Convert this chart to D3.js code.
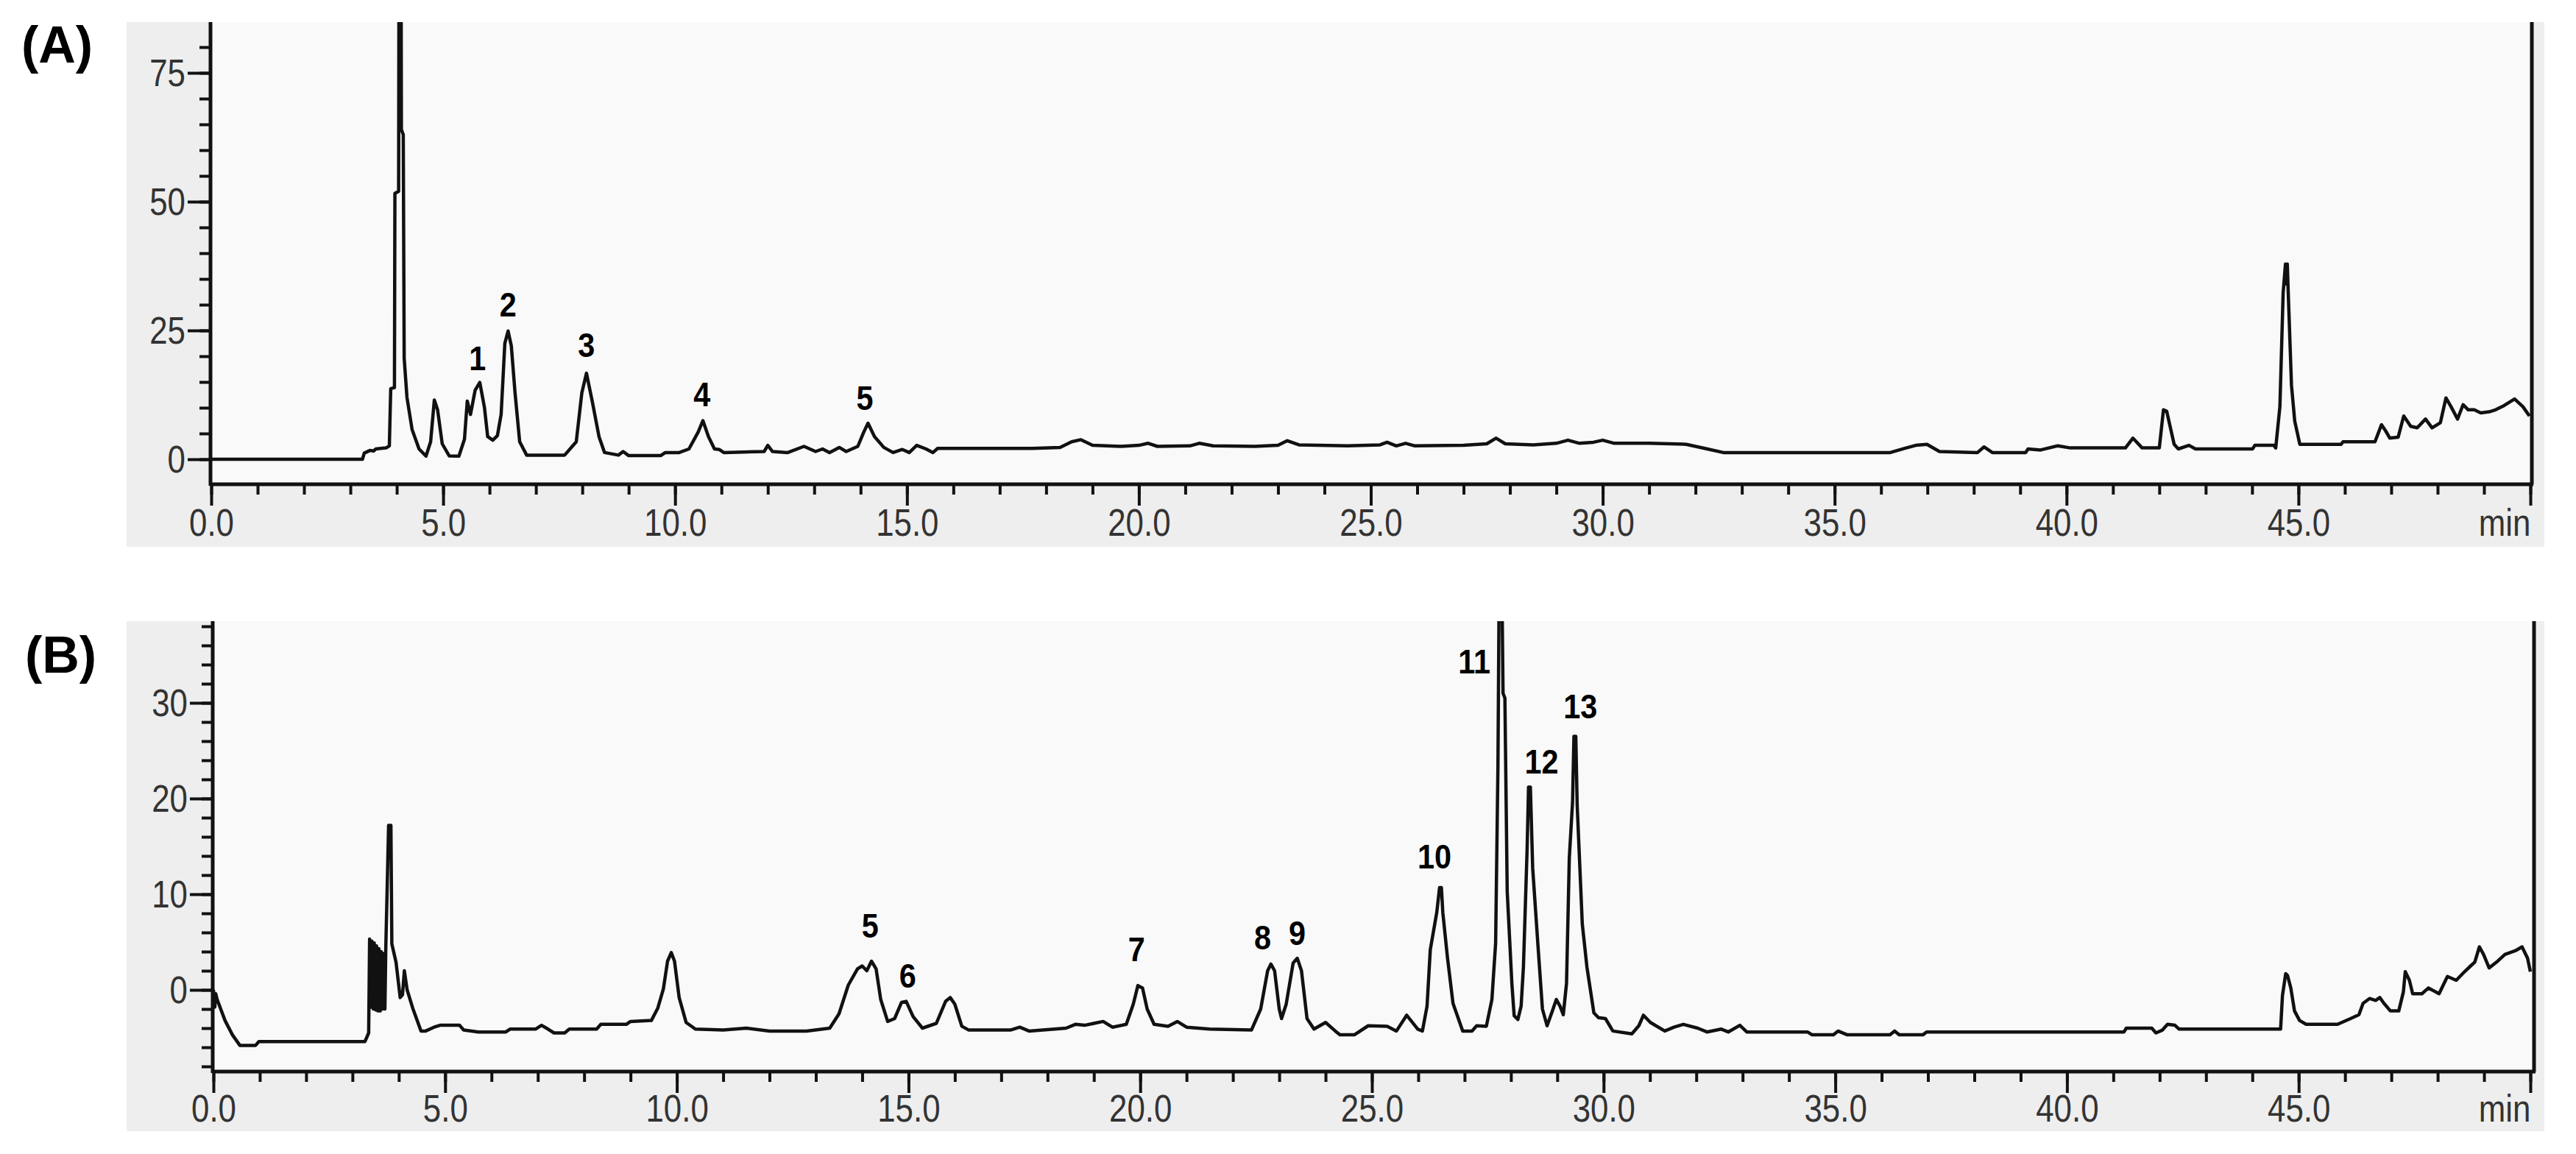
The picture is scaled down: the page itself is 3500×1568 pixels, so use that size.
<!DOCTYPE html>
<html>
<head>
<meta charset="utf-8">
<script src="https://cdn.jsdelivr.net/npm/d3@7"></script>
<style>
	body { margin: 0; background: #fff; }
	text { font-family: "Liberation Sans", Arial, sans-serif; }
</style>
</head>
<body>
<svg id="chart"></svg>
<script>
/* jshint esversion: 6 */

///////////////////////////////////////////////////////////////////
//// Data (time in min, signal in mAU) ////////////////////////////
///////////////////////////////////////////////////////////////////
const xTicks = [0, 5, 10, 15, 20, 25, 30, 35, 40, 45, 50];
const xTickLabels = ["0.0", "5.0", "10.0", "15.0", "20.0", "25.0", "30.0", "35.0", "40.0", "45.0", "min"];

const yTicksA = [0, 25, 50, 75];
const yTicksB = [0, 10, 20, 30];

const traceA = [
	[0, 0], [3.26, 0], [3.30, 1.2], [3.42, 1.7], [3.50, 1.6], [3.55, 2.0], [3.77, 2.2], [3.84, 2.6],
	[3.87, 13.7], [3.95, 13.9], [3.96, 51.6], [4.04, 52], [4.05, 110], [4.09, 110], [4.10, 64], [4.14, 63],
	[4.16, 19.6], [4.22, 12], [4.33, 5.8], [4.48, 2.0], [4.63, 0.6], [4.73, 3.4], [4.81, 11.5], [4.88, 9.6],
	[4.98, 3.0], [5.13, 0.66], [5.34, 0.6], [5.46, 3.9], [5.52, 11.3], [5.59, 8.7], [5.69, 13.4], [5.79, 14.9],
	[5.89, 10.1], [5.96, 4.4], [6.07, 3.7], [6.17, 4.6], [6.25, 8.7], [6.33, 22.5], [6.40, 24.9], [6.47, 22.0],
	[6.55, 12.9], [6.65, 3.4], [6.80, 0.8], [7.62, 0.8], [7.87, 3.4], [7.99, 12.9], [8.09, 16.7], [8.22, 11],
	[8.36, 4.4], [8.48, 1.3], [8.78, 0.8], [8.88, 1.5], [9.00, 0.7], [9.69, 0.7], [9.79, 1.3], [10.09, 1.3],
	[10.30, 2.0], [10.50, 5.3], [10.60, 7.5], [10.72, 4.4], [10.85, 2.0], [10.95, 1.9], [11.05, 1.3], [11.92, 1.5],
	[12.0, 2.7], [12.1, 1.5], [12.43, 1.3], [12.78, 2.5], [13.03, 1.5], [13.18, 2.0], [13.33, 1.3], [13.54, 2.3],
	[13.69, 1.5], [13.94, 2.5], [14.07, 5.3], [14.16, 7.0], [14.30, 4.4], [14.50, 2.3], [14.70, 1.3], [14.90, 1.9],
	[15.05, 1.3], [15.21, 2.7], [15.41, 2.0], [15.56, 1.3], [15.66, 2.1], [17.7, 2.1], [18.3, 2.3], [18.55, 3.4],
	[18.75, 3.8], [19.0, 2.7], [19.6, 2.5], [20.0, 2.7], [20.2, 3.1], [20.4, 2.5], [21.1, 2.6], [21.3, 3.1],
	[21.6, 2.6], [22.5, 2.5], [23.0, 2.7], [23.2, 3.6], [23.45, 2.8], [24.5, 2.6], [25.2, 2.8], [25.35, 3.3],
	[25.55, 2.6], [25.75, 3.1], [25.95, 2.6], [27.0, 2.7], [27.5, 3.0], [27.7, 4.1], [27.9, 3.0], [28.5, 2.8],
	[29.0, 3.1], [29.25, 3.7], [29.5, 3.1], [29.8, 3.3], [30.0, 3.7], [30.25, 3.1], [31.0, 3.1], [31.8, 2.9],
	[32.2, 2.1], [32.6, 1.3], [36.2, 1.3], [36.5, 2.1], [36.75, 2.7], [36.99, 2.9], [37.26, 1.5], [38.08, 1.3],
	[38.22, 2.4], [38.40, 1.3], [39.12, 1.3], [39.17, 2.0], [39.44, 1.8], [39.81, 2.6], [40.08, 2.2], [41.27, 2.2],
	[41.43, 4.1], [41.63, 2.2], [42.0, 2.2], [42.09, 9.6], [42.16, 9.3], [42.32, 2.9], [42.41, 2.0], [42.64, 2.7],
	[42.78, 2.0], [44.01, 2.0], [44.06, 2.7], [44.47, 2.7], [44.51, 2.2], [44.60, 10.2], [44.67, 32.3], [44.72, 37.9],
	[44.74, 34], [44.76, 37.9], [44.78, 32.3], [44.85, 14.3], [44.92, 7.4], [45.03, 2.9], [45.92, 2.9], [45.96, 3.4],
	[46.65, 3.4], [46.79, 6.7], [46.88, 5.5], [46.97, 4.1], [47.15, 4.3], [47.27, 8.4], [47.42, 6.4], [47.56, 6.1],
	[47.74, 7.8], [47.88, 6.1], [48.06, 7.1], [48.18, 11.9], [48.29, 10.2], [48.43, 7.8], [48.55, 10.6], [48.66, 9.6],
	[48.79, 9.6], [48.93, 9.0], [49.11, 9.2], [49.25, 9.6], [49.43, 10.4], [49.66, 11.7], [49.84, 10.2], [49.98, 8.4]
];

const traceB = [
	[0, 0], [0.03, -1.8], [0.05, -0.4], [0.08, -1.0], [0.25, -3.2], [0.41, -4.7], [0.57, -5.8], [0.91, -5.8],
	[0.98, -5.4], [3.27, -5.4], [3.35, -4.5], [3.37, 5.3], [3.40, -1.8], [3.42, 5.1], [3.45, -2.0], [3.47, 4.9],
	[3.50, -2.1], [3.52, 4.6], [3.55, -2.2], [3.57, 4.3], [3.60, -2.2], [3.62, 4.0], [3.65, -2.0], [3.67, 3.8],
	[3.70, -2.0], [3.72, 4.5], [3.78, 17.2], [3.83, 17.2], [3.85, 4.8], [3.94, 2.9], [4.03, -0.8], [4.08, -0.5],
	[4.12, 2.0], [4.18, 0], [4.30, -1.9], [4.48, -4.3], [4.58, -4.3], [4.76, -3.9], [4.89, -3.7], [5.31, -3.7],
	[5.40, -4.2], [5.72, -4.4], [6.31, -4.4], [6.40, -4.1], [6.95, -4.1], [7.08, -3.7], [7.22, -4.1], [7.35, -4.5],
	[7.58, -4.5], [7.68, -4.1], [8.27, -4.1], [8.36, -3.6], [8.91, -3.6], [9.0, -3.3], [9.45, -3.2], [9.59, -1.9],
	[9.71, 0.1], [9.80, 3.0], [9.88, 3.9], [9.95, 3.0], [10.05, -0.8], [10.2, -3.4], [10.4, -4.1], [11.0, -4.2],
	[11.5, -4.0], [12.0, -4.3], [12.8, -4.3], [13.3, -4.0], [13.5, -2.5], [13.7, 0.5], [13.9, 2.2], [14.0, 2.5],
	[14.1, 2.0], [14.2, 3.0], [14.3, 2.2], [14.4, -1.0], [14.55, -3.3], [14.7, -3.0], [14.85, -1.3], [14.95, -1.2],
	[15.1, -2.8], [15.3, -4.0], [15.6, -3.5], [15.8, -1.2], [15.9, -0.8], [16.0, -1.5], [16.15, -3.8], [16.3, -4.2],
	[17.2, -4.2], [17.4, -3.9], [17.6, -4.3], [18.4, -4.0], [18.6, -3.6], [18.8, -3.7], [19.0, -3.5], [19.2, -3.3],
	[19.4, -3.9], [19.7, -3.6], [19.85, -1.5], [19.95, 0.45], [20.05, 0.2], [20.15, -2.0], [20.3, -3.6], [20.6, -3.8],
	[20.8, -3.3], [21.0, -3.9], [21.5, -4.1], [22.4, -4.2], [22.6, -2.0], [22.75, 2.0], [22.82, 2.7], [22.9, 2.0],
	[23.0, -2.0], [23.05, -3.0], [23.15, -1.5], [23.3, 2.8], [23.39, 3.3], [23.48, 2.0], [23.6, -3.0], [23.75, -4.1],
	[24.0, -3.4], [24.21, -4.3], [24.31, -4.7], [24.62, -4.7], [24.92, -3.75], [25.33, -3.8], [25.53, -4.3], [25.75, -2.65],
	[25.99, -4.1], [26.09, -4.3], [26.19, -1.7], [26.26, 4.2], [26.40, 8.1], [26.46, 10.7], [26.50, 10.7], [26.53, 8.1],
	[26.63, 3.4], [26.75, -1.4], [26.96, -4.3], [27.16, -4.3], [27.26, -3.75], [27.47, -3.8], [27.59, -1.0], [27.67, 4.9],
	[27.72, 23.4], [27.75, 45], [27.80, 45], [27.83, 31], [27.87, 30.5], [27.92, 10.3], [28.02, 0.7], [28.07, -2.7],
	[28.15, -3.1], [28.22, -1.7], [28.27, 2.4], [28.35, 14.8], [28.38, 21.2], [28.42, 21.2], [28.47, 12.7], [28.58, 4.9],
	[28.68, -2.0], [28.78, -3.75], [28.88, -2.4], [28.98, -1.0], [29.06, -1.7], [29.13, -2.6], [29.20, 0.7], [29.26, 13.8],
	[29.33, 19.6], [29.36, 26.5], [29.40, 26.5], [29.43, 19.3], [29.54, 6.9], [29.64, 2.4], [29.79, -2.4], [29.89, -2.9],
	[30.04, -3.0], [30.20, -4.3], [30.61, -4.6], [30.76, -3.75], [30.86, -2.65], [31.01, -3.4], [31.32, -4.3], [31.52, -3.9],
	[31.72, -3.6], [32.03, -4.0], [32.23, -4.4], [32.54, -4.1], [32.69, -4.4], [32.94, -3.7], [33.09, -4.4], [34.40, -4.4],
	[34.50, -4.7], [34.96, -4.7], [35.06, -4.3], [35.26, -4.7], [36.18, -4.7], [36.28, -4.3], [36.38, -4.7], [36.89, -4.7],
	[36.97, -4.4], [41.23, -4.4], [41.28, -4.0], [41.83, -4.0], [41.92, -4.5], [42.06, -4.2], [42.17, -3.6], [42.33, -3.7],
	[42.42, -4.1], [44.61, -4.1], [44.65, -0.6], [44.72, 1.7], [44.76, 1.5], [44.83, 0.2], [44.91, -2.2], [45.02, -3.2],
	[45.16, -3.6], [45.84, -3.6], [46.12, -3.0], [46.30, -2.6], [46.39, -1.4], [46.53, -0.9], [46.66, -1.1], [46.75, -0.8],
	[46.84, -1.4], [46.98, -2.2], [47.16, -2.2], [47.26, -0.2], [47.30, 1.9], [47.39, 1.0], [47.46, -0.4], [47.66, -0.4],
	[47.80, 0.2], [48.03, -0.4], [48.21, 1.4], [48.40, 1.0], [48.58, 1.9], [48.71, 2.5], [48.80, 2.9], [48.90, 4.5],
	[48.99, 3.7], [49.11, 2.3], [49.27, 2.9], [49.45, 3.7], [49.68, 4.1], [49.82, 4.5], [49.94, 3.3], [50.0, 1.9]
];

// peak number, time, signal level of the label baseline
const peakLabelsA = [["1", 5.74, 17.3], ["2", 6.40, 27.7], ["3", 8.09, 19.9], ["4", 10.58, 10.3], ["5", 14.09, 9.6]];
const peakLabelsB = [
	["5", 14.17, 5.5], ["6", 14.98, 0.2], ["7", 19.92, 3.0], ["8", 22.64, 4.2], ["9", 23.39, 4.7],
	["10", 26.35, 12.7], ["11", 27.21, 33.1], ["12", 28.66, 22.6], ["13", 29.50, 28.4]
];

(function(){
	///////////////////////////////////////////////////////////////////
	//// Inital Set Up ////////////////////////////////////////////////
	///////////////////////////////////////////////////////////////////
	const width = 3500;
	const height = 1568;

	const panels = [
		{
			id: "A", title: "(A)", titlePos: [29, 85],
			trace: traceA, labels: peakLabelsA,
			yMajor: yTicksA, yMinor: d3.range(0, 81, 5),
			box: {left: 172, top: 30, right: 3457, bottom: 743},
			plot: {left: 286, top: 30, right: 3440, bottom: 658},
			xRange: [287, 3438], yAnchor: {domain: [0, 75], range: [624, 99]},
			labelGap: 70
		},
		{
			id: "B", title: "(B)", titlePos: [34, 914],
			trace: traceB, labels: peakLabelsB,
			yMajor: yTicksB, yMinor: d3.range(-8, 39, 2),
			box: {left: 172, top: 844, right: 3457, bottom: 1537},
			plot: {left: 289, top: 844, right: 3443, bottom: 1456},
			xRange: [290, 3438], yAnchor: {domain: [0, 30], range: [1345, 955]},
			labelGap: 68
		}
	];

	const svg = d3.select("#chart")
			.attr("width", width)
			.attr("height", height);

	svg.append("rect")
			.attr("width", width)
			.attr("height", height)
			.style("fill", "#fff");

	const defs = svg.append("defs");

	panels.forEach(drawPanel);

	///////////////////////////////////////////////////////////////////
	//// Panel ////////////////////////////////////////////////////////
	///////////////////////////////////////////////////////////////////
	function drawPanel(p) {
		const x = d3.scaleLinear()
				.domain([0, 50])
				.range(p.xRange);

		const y = d3.scaleLinear()
				.domain(p.yAnchor.domain)
				.range(p.yAnchor.range);

		const g = svg.append("g")
				.attr("class", "panel-" + p.id);

		// Backgrounds
		g.append("rect")
				.attr("x", p.box.left)
				.attr("y", p.box.top)
				.attr("width", p.box.right - p.box.left)
				.attr("height", p.box.bottom - p.box.top)
				.style("fill", "#eeeeee");

		g.append("rect")
				.attr("x", p.plot.left)
				.attr("y", p.plot.top)
				.attr("width", p.plot.right - p.plot.left)
				.attr("height", p.plot.bottom - p.plot.top)
				.style("fill", "#f9f9f9");

		// Clip for the trace
		defs.append("clipPath")
				.attr("id", "clip-" + p.id)
			.append("rect")
				.attr("x", p.plot.left)
				.attr("y", p.plot.top)
				.attr("width", p.plot.right - p.plot.left)
				.attr("height", p.plot.bottom - p.plot.top);

		const line = d3.line()
				.x(d => x(d[0]))
				.y(d => y(d[1]));

		g.append("path")
				.datum(p.trace)
				.attr("clip-path", `url(#clip-${p.id})`)
				.attr("d", line)
				.style("fill", "none")
				.style("stroke", "#111")
				.style("stroke-width", 4.5)
				.style("stroke-linejoin", "round");

		/////////////////////////////////////////////////////////////////
		// Y axis
		const yMinorG = g.append("g")
				.attr("transform", `translate(${p.plot.left}, 0)`)
				.call(d3.axisLeft(y).tickValues(p.yMinor).tickSize(15).tickFormat(""));

		const yMajorG = g.append("g")
				.attr("transform", `translate(${p.plot.left}, 0)`)
				.call(d3.axisLeft(y).tickValues(p.yMajor).tickSize(31));

		yMajorG.selectAll(".tick text")
				.attr("x", null)
				.attr("dy", "0.35em")
				.attr("transform", "translate(-34, 0) scale(0.86, 1)")
				.style("text-anchor", "end")
				.style("font-size", "51px")
				.style("fill", "#333");

		/////////////////////////////////////////////////////////////////
		// X axis
		const xMinorG = g.append("g")
				.attr("transform", `translate(0, ${p.plot.bottom})`)
				.call(d3.axisBottom(x).tickValues(d3.range(0, 51, 1)).tickSize(14).tickFormat(""));

		const xMajorG = g.append("g")
				.attr("transform", `translate(0, ${p.plot.bottom})`)
				.call(d3.axisBottom(x)
					.tickValues(xTicks)
					.tickSize(29)
					.tickFormat((d, i) => xTickLabels[i]));

		xMajorG.selectAll(".tick text")
				.attr("y", null)
				.attr("dy", null)
				.attr("transform", d => `translate(0, ${p.labelGap}) scale(0.86, 1)`)
				.style("text-anchor", d => d === 50 ? "end" : "middle")
				.style("font-size", "51px")
				.style("fill", "#333");

		[yMinorG, yMajorG, xMinorG, xMajorG].forEach(a => {
			a.select(".domain").remove();
			a.selectAll(".tick line")
					.style("stroke", "#111")
					.style("stroke-width", 4);
		});

		// Axis lines and right border
		g.append("line")
				.attr("x1", p.plot.left).attr("x2", p.plot.left)
				.attr("y1", p.plot.top).attr("y2", p.plot.bottom + 2)
				.style("stroke", "#111")
				.style("stroke-width", 5);

		g.append("line")
				.attr("x1", p.plot.left).attr("x2", p.plot.right + 2)
				.attr("y1", p.plot.bottom).attr("y2", p.plot.bottom)
				.style("stroke", "#111")
				.style("stroke-width", 5);

		g.append("line")
				.attr("x1", p.plot.right).attr("x2", p.plot.right)
				.attr("y1", p.plot.top).attr("y2", p.plot.bottom)
				.style("stroke", "#111")
				.style("stroke-width", 5);

		/////////////////////////////////////////////////////////////////
		// Peak numbers and panel letter
		g.selectAll(".peak-label")
			.data(p.labels)
			.enter().append("text")
				.attr("class", "peak-label")
				.attr("transform", d => `translate(${x(d[1])}, ${y(d[2])}) scale(0.9, 1)`)
				.style("text-anchor", "middle")
				.style("font-size", "46px")
				.style("font-weight", "bold")
				.style("fill", "#000")
				.text(d => d[0]);

		g.append("text")
				.attr("x", p.titlePos[0])
				.attr("y", p.titlePos[1])
				.style("font-size", "70px")
				.style("font-weight", "bold")
				.style("fill", "#000")
				.text(p.title);
	}
}());
</script>
</body>
</html>
